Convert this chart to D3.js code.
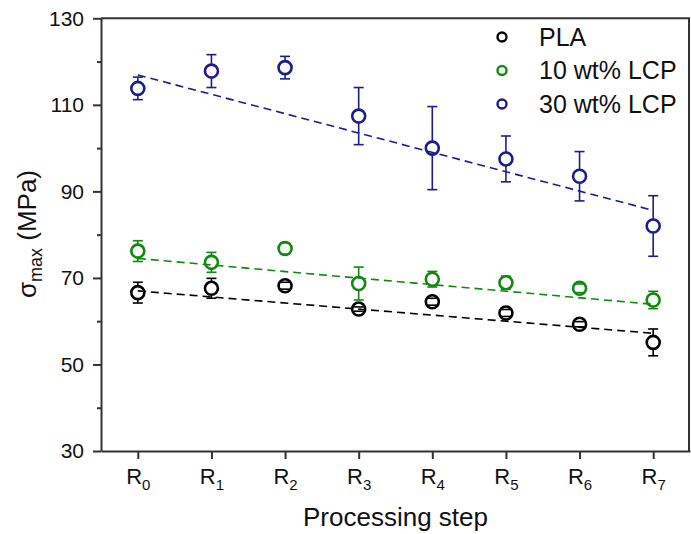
<!DOCTYPE html>
<html>
<head>
<meta charset="utf-8">
<script src="https://cdn.jsdelivr.net/npm/d3@7"></script>
<style>
  html, body { margin: 0; padding: 0; background: #fff; }
  svg { display: block; font-family: "Liberation Sans", Arial, sans-serif; }
</style>
</head>
<body>
<svg id="chart" width="691" height="534"></svg>
<script>
// Processing steps R0..R7 (subscript digits)
const steps = ["0", "1", "2", "3", "4", "5", "6", "7"];

// Maximum stress (MPa), mean and +/- error
const plaMean = [66.6, 67.6, 68.2, 62.8, 64.5, 61.9, 59.3, 55.1];
const plaErr = [2.4, 2.3, 0.8, 0.5, 0.8, 0.8, 0.6, 3.1];
const lcp10Mean = [76.2, 73.6, 76.8, 68.7, 69.7, 68.9, 67.6, 64.9];
const lcp10Err = [2.4, 2.3, 1.3, 3.8, 1.8, 1.5, 1.0, 2.0];
const lcp30Mean = [113.8, 117.8, 118.6, 107.4, 100.0, 97.5, 93.5, 82.0];
const lcp30Err = [2.6, 3.8, 2.6, 6.6, 9.6, 5.3, 5.7, 7.0];

// Dashed linear fits: value at R0 and at R7
const plaFit = [67.0, 57.2];
const lcp10Fit = [74.5, 63.9];
const lcp30Fit = [116.9, 85.6];

const seriesNames = ["PLA", "10 wt% LCP", "30 wt% LCP"];
const yMajor = [30, 50, 70, 90, 110, 130];
const yMinor = [40, 60, 80, 100, 120];

(function () {
  const svg = d3.select("#chart");
  const colors = ["#000000", "#0e8a0e", "#1c1c8e"];
  const axisColor = "#333";

  const x = d3.scaleLinear().domain([-0.5, 7.5]).range([101, 690]);
  const y = d3.scaleLinear().domain([30, 130]).range([451, 18.3]);

  const series = [
    { name: seriesNames[0], mean: plaMean, err: plaErr, fit: plaFit, color: colors[0] },
    { name: seriesNames[1], mean: lcp10Mean, err: lcp10Err, fit: lcp10Fit, color: colors[1] },
    { name: seriesNames[2], mean: lcp30Mean, err: lcp30Err, fit: lcp30Fit, color: colors[2] },
  ];

  // --- frame (top + right) ---
  svg.append("line").attr("x1", x(-0.5)).attr("x2", x(7.5))
    .attr("y1", y(130)).attr("y2", y(130))
    .attr("stroke", axisColor).attr("stroke-width", 2);
  svg.append("line").attr("x1", x(7.5) - 1).attr("x2", x(7.5) - 1)
    .attr("y1", y(130)).attr("y2", y(30))
    .attr("stroke", axisColor).attr("stroke-width", 2);

  // --- y axis: major + minor ticks ---
  const yAxis = svg.append("g").attr("transform", `translate(${x(-0.5)},0)`)
    .call(d3.axisLeft(y).tickValues(yMajor).tickSize(8).tickSizeOuter(0).tickPadding(9));
  svg.append("g").attr("transform", `translate(${x(-0.5)},0)`)
    .call(d3.axisLeft(y).tickValues(yMinor).tickSize(4).tickFormat(""))
    .call(g => g.select(".domain").remove());

  // --- x axis ---
  const xAxis = svg.append("g").attr("transform", `translate(0,${y(30)})`)
    .call(d3.axisBottom(x).tickValues(d3.range(steps.length)).tickSize(8).tickSizeOuter(0).tickFormat(""));

  svg.selectAll(".domain").attr("stroke", axisColor).attr("stroke-width", 2);
  svg.selectAll(".tick line").attr("stroke", axisColor).attr("stroke-width", 2);
  yAxis.selectAll("text").attr("font-size", 21).attr("fill", "#111")
    .attr("font-family", "Liberation Sans, Arial, sans-serif");

  const xl = xAxis.selectAll(".tick").append("text")
    .attr("y", 33).attr("text-anchor", "middle").attr("fill", "#111")
    .attr("font-size", 22);
  xl.append("tspan").text("R");
  xl.append("tspan").attr("font-size", 15).attr("dy", 6).text((d, i) => steps[i]);

  // --- axis titles ---
  svg.append("text").attr("x", x(3.5)).attr("y", 526)
    .attr("text-anchor", "middle").attr("font-size", 26).attr("fill", "#111")
    .text("Processing step");

  const yt = svg.append("text")
    .attr("transform", `translate(36,234) rotate(-90)`)
    .attr("text-anchor", "middle").attr("font-size", 26).attr("fill", "#111");
  yt.append("tspan").text("σ");
  yt.append("tspan").attr("font-size", 18).attr("dy", 6).text("max");
  yt.append("tspan").attr("dy", -6).text(" (MPa)");

  // --- fit lines ---
  series.forEach(s => {
    svg.append("line")
      .attr("x1", x(0)).attr("y1", y(s.fit[0]))
      .attr("x2", x(steps.length - 1)).attr("y2", y(s.fit[1]))
      .attr("stroke", s.color).attr("stroke-width", 1.6)
      .attr("stroke-dasharray", "8,5");
  });

  // --- error bars + markers ---
  const r = 6.5;
  series.forEach(s => {
    const g = svg.append("g").attr("stroke", s.color).attr("fill", "none");
    s.mean.forEach((m, i) => {
      const cx = x(i), cy = y(m);
      const top = y(m + s.err[i]), bot = y(m - s.err[i]);
      if (cy - top > r) g.append("line").attr("x1", cx).attr("x2", cx)
        .attr("y1", top).attr("y2", cy - r).attr("stroke-width", 1.6);
      if (bot - cy > r) g.append("line").attr("x1", cx).attr("x2", cx)
        .attr("y1", cy + r).attr("y2", bot).attr("stroke-width", 1.6);
      [top, bot].forEach(yy => g.append("line")
        .attr("x1", cx - 5).attr("x2", cx + 5).attr("y1", yy).attr("y2", yy)
        .attr("stroke-width", 1.6));
      g.append("circle").attr("cx", cx).attr("cy", cy).attr("r", r)
        .attr("stroke-width", 2.6);
    });
  });

  // --- legend ---
  const leg = svg.append("g");
  series.forEach((s, i) => {
    const yy = 37 + i * 33.5;
    leg.append("circle").attr("cx", 502).attr("cy", yy).attr("r", 4.5)
      .attr("fill", "none").attr("stroke", s.color).attr("stroke-width", 2.4);
    leg.append("text").attr("x", 539).attr("y", yy + 8.5)
      .attr("font-size", 25).attr("fill", "#111").text(s.name);
  });
})();
</script>
</body>
</html>
